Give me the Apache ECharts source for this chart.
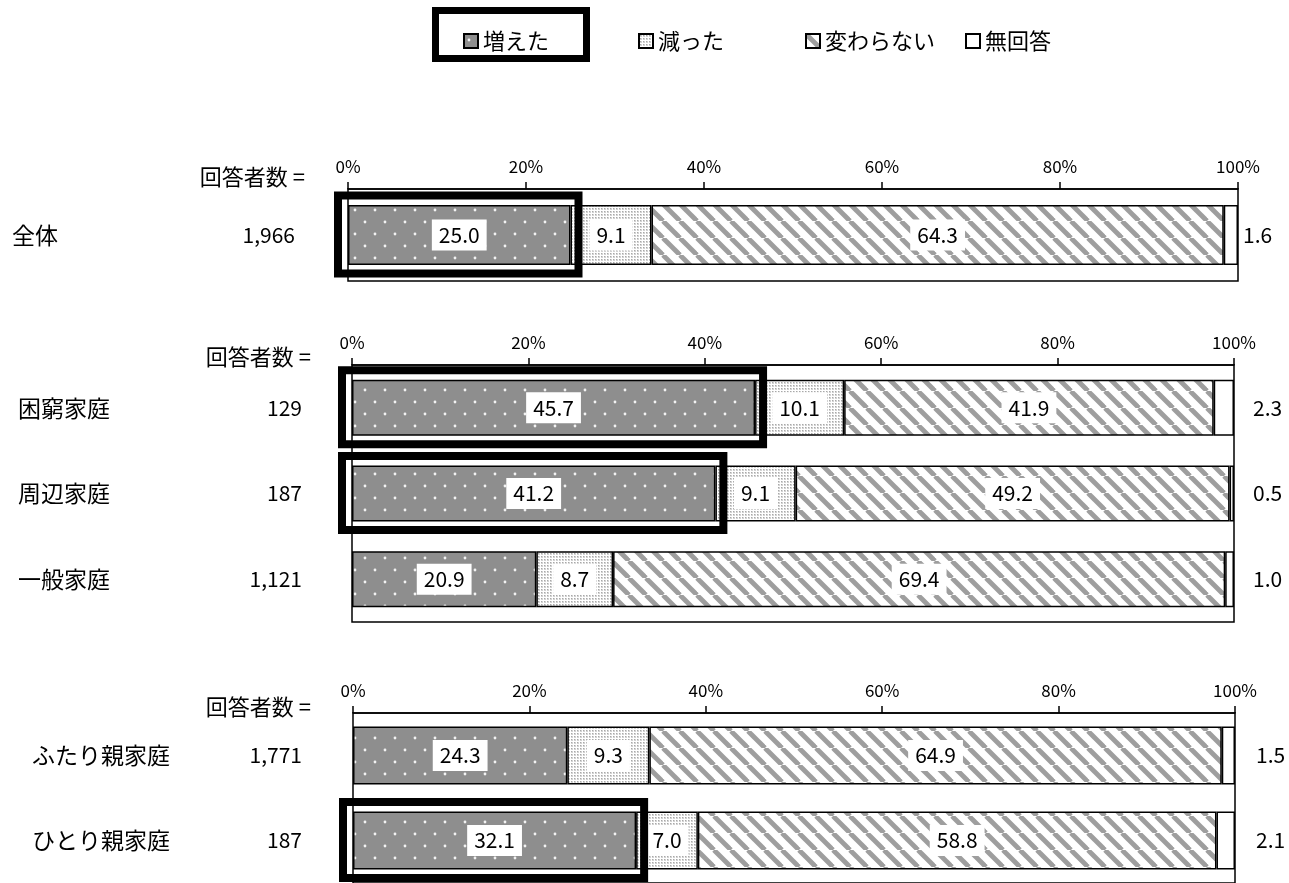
<!DOCTYPE html>
<html><head><meta charset="utf-8">
<script src="https://cdn.jsdelivr.net/npm/echarts@6/dist/echarts.min.js"></script>
<style>html,body{margin:0;padding:0;background:#fff}#c{width:1289px;height:883px}</style>
</head><body><div id="c"></div>
<script>
// ---- data ----
const seriesNames = ['増えた', '減った', '変わらない', '無回答'];
const xTicks = [0, 20, 40, 60, 80, 100];

const cats1 = ['全体'];
const counts1 = ['1,966'];
const inc1 = [25.0];
const dec1 = [9.1];
const same1 = [64.3];
const na1 = [1.6];
const hl1 = [0];

const cats2 = ['困窮家庭', '周辺家庭', '一般家庭'];
const counts2 = ['129', '187', '1,121'];
const inc2 = [45.7, 41.2, 20.9];
const dec2 = [10.1, 9.1, 8.7];
const same2 = [41.9, 49.2, 69.4];
const na2 = [2.3, 0.5, 1.0];
const hl2 = [0, 1];

const cats3 = ['ふたり親家庭', 'ひとり親家庭'];
const counts3 = ['1,771', '187'];
const inc3 = [24.3, 32.1];
const dec3 = [9.3, 7.0];
const same3 = [64.9, 58.8];
const na3 = [1.5, 2.1];
const hl3 = [1];

const headerText = '回答者数 =';

// ---- styles ----
const FONT = '"Noto Sans CJK JP", "Noto Sans", sans-serif';

function makePattern(kind) {
  const c = document.createElement('canvas');
  let ctx;
  if (kind === 'inc') {
    c.width = 20; c.height = 24; ctx = c.getContext('2d');
    ctx.fillStyle = '#8e8e8e'; ctx.fillRect(0, 0, 20, 24);
    ctx.fillStyle = '#f2f2f2';
    ctx.beginPath(); ctx.arc(5, 6, 1.4, 0, Math.PI * 2); ctx.fill();
    ctx.beginPath(); ctx.arc(15, 18, 1.4, 0, Math.PI * 2); ctx.fill();
  } else if (kind === 'dec') {
    c.width = 3; c.height = 3; ctx = c.getContext('2d');
    ctx.fillStyle = '#ffffff'; ctx.fillRect(0, 0, 3, 3);
    ctx.fillStyle = '#d2d2d2'; ctx.fillRect(1, 1, 2, 2);
    ctx.fillStyle = '#a8a8a8'; ctx.fillRect(1, 1, 1, 1);
  } else if (kind === 'same') {
    const p = 17;
    c.width = p; c.height = p; ctx = c.getContext('2d');
    ctx.fillStyle = '#ffffff'; ctx.fillRect(0, 0, p, p);
    ctx.strokeStyle = '#9e9e9e'; ctx.lineWidth = 4.8;
    for (let k = -1; k <= 1; k++) {
      ctx.beginPath(); ctx.moveTo(k * p, 0); ctx.lineTo(k * p + p, p); ctx.stroke();
    }
  } else {
    c.width = 2; c.height = 2; ctx = c.getContext('2d');
    ctx.fillStyle = '#ffffff'; ctx.fillRect(0, 0, 2, 2);
  }
  return { image: c, repeat: 'repeat' };
}
const fills = [makePattern('inc'), makePattern('dec'), makePattern('same'), '#ffffff'];

const panels = [
  { cats: cats1, counts: counts1, vals: [inc1, dec1, same1, na1], hl: hl1,
    left: 348, right: 51, top: 189, height: 92, barW: 60, nameMargin: 336, countMargin: 53, naDist: 5,
    header: { x: 305, y: 177 } },
  { cats: cats2, counts: counts2, vals: [inc2, dec2, same2, na2], hl: hl2,
    left: 352, right: 55, top: 365, height: 257, barW: 56, nameMargin: 334, countMargin: 50, naDist: 19,
    header: { x: 311, y: 357 } },
  { cats: cats3, counts: counts3, vals: [inc3, dec3, same3, na3], hl: hl3,
    left: 353, right: 54, top: 713, height: 176, barW: 58, nameMargin: 321, countMargin: 51, naDist: 21,
    header: { x: 311, y: 707 } }
];

const grids = [], xAxes = [], yAxes = [], series = [], graphics = [];

panels.forEach((p, gi) => {
  grids.push({ left: p.left, right: p.right, top: p.top, height: p.height,
    show: true, borderColor: '#000', borderWidth: 1.5, backgroundColor: 'transparent' });
  xAxes.push({
    gridIndex: gi, type: 'value', position: 'top', min: 0, max: 100, interval: 20,
    axisLine: { show: true, lineStyle: { color: '#000', width: 1.5 } },
    axisTick: { show: true, length: 7, lineStyle: { color: '#000', width: 1.5 } },
    splitLine: { show: false },
    axisLabel: { formatter: v => xTicks.includes(v) ? v + '%' : '', color: '#000',
      fontSize: 17, fontFamily: FONT, margin: 14 }
  });
  // names axis
  yAxes.push({
    gridIndex: gi, type: 'category', data: p.cats, inverse: true, position: 'left',
    axisLine: { show: false }, axisTick: { show: false },
    axisLabel: { align: 'left', margin: p.nameMargin, color: '#000', fontSize: 23, fontFamily: FONT }
  });
  // counts axis
  yAxes.push({
    gridIndex: gi, type: 'category', data: p.counts, inverse: true, position: 'left', offset: 0,
    axisLine: { show: false }, axisTick: { show: false },
    axisLabel: { align: 'right', margin: p.countMargin, color: '#000', fontSize: 21, fontFamily: FONT }
  });
  const yIdx = gi * 2;
  p.vals.forEach((arr, si) => {
    const isNA = si === 3;
    series.push({
      name: seriesNames[si], type: 'bar', stack: 'g' + gi,
      xAxisIndex: gi, yAxisIndex: yIdx, barWidth: p.barW,
      data: arr,
      itemStyle: { color: fills[si], borderColor: '#000', borderWidth: 1.5 },
      emphasis: { disabled: true },
      label: isNA ? {
        show: true, position: 'right', distance: p.naDist,
        formatter: q => q.value.toFixed(1), color: '#000', fontSize: 21, fontFamily: FONT
      } : {
        show: true, position: 'inside',
        formatter: q => q.value.toFixed(1), color: '#000', fontSize: 21, fontFamily: FONT,
        backgroundColor: '#fff', padding: [5, 7]
      },
      z: 2
    });
  });
  // highlight boxes around 増えた bars
  const incArr = p.vals[0];
  const barW = p.barW;
  series.push({
    type: 'custom', name: 'hl' + gi, xAxisIndex: gi, yAxisIndex: yIdx, silent: true, z: 5,
    data: p.hl.map(i => [incArr[i], i]),
    renderItem: (params, api) => {
      const v = api.value(0), c = api.value(1);
      const p0 = api.coord([0, c]);
      const p1 = api.coord([v, c]);
      const x0 = p0[0] - 10, x1 = p1[0] + 8;
      const y0 = p0[1] - barW / 2 - 9.5, y1 = p0[1] + barW / 2 + 8.5;
      return { type: 'rect', shape: { x: x0, y: y0, width: x1 - x0, height: y1 - y0 },
        style: { fill: null, stroke: '#000', lineWidth: 8 } };
    }
  });
  graphics.push({ type: 'text', x: p.header.x, y: p.header.y,
    style: { text: headerText, textAlign: 'right', textVerticalAlign: 'middle',
      fill: '#000', fontSize: 22, fontFamily: FONT } });
});

// legend highlight box
graphics.push({ type: 'rect', shape: { x: 435.5, y: 10.5, width: 151, height: 48 },
  style: { fill: null, stroke: '#000', lineWidth: 7 }, z: 10 });

const legendLefts = [458, 633, 800, 960];
const legends = seriesNames.map((n, i) => ({
  data: [n], left: legendLefts[i], top: 25, itemWidth: 14, itemHeight: 14, itemGap: 5,
  icon: 'rect', selectedMode: false,
  textStyle: { color: '#000', fontSize: 22, fontFamily: FONT }
}));

const chart = echarts.init(document.getElementById('c'), null, { renderer: 'canvas' });
chart.setOption({
  animation: false,
  backgroundColor: '#fff',
  legend: legends,
  grid: grids, xAxis: xAxes, yAxis: yAxes, series: series,
  graphic: graphics
});
</script></body></html>
